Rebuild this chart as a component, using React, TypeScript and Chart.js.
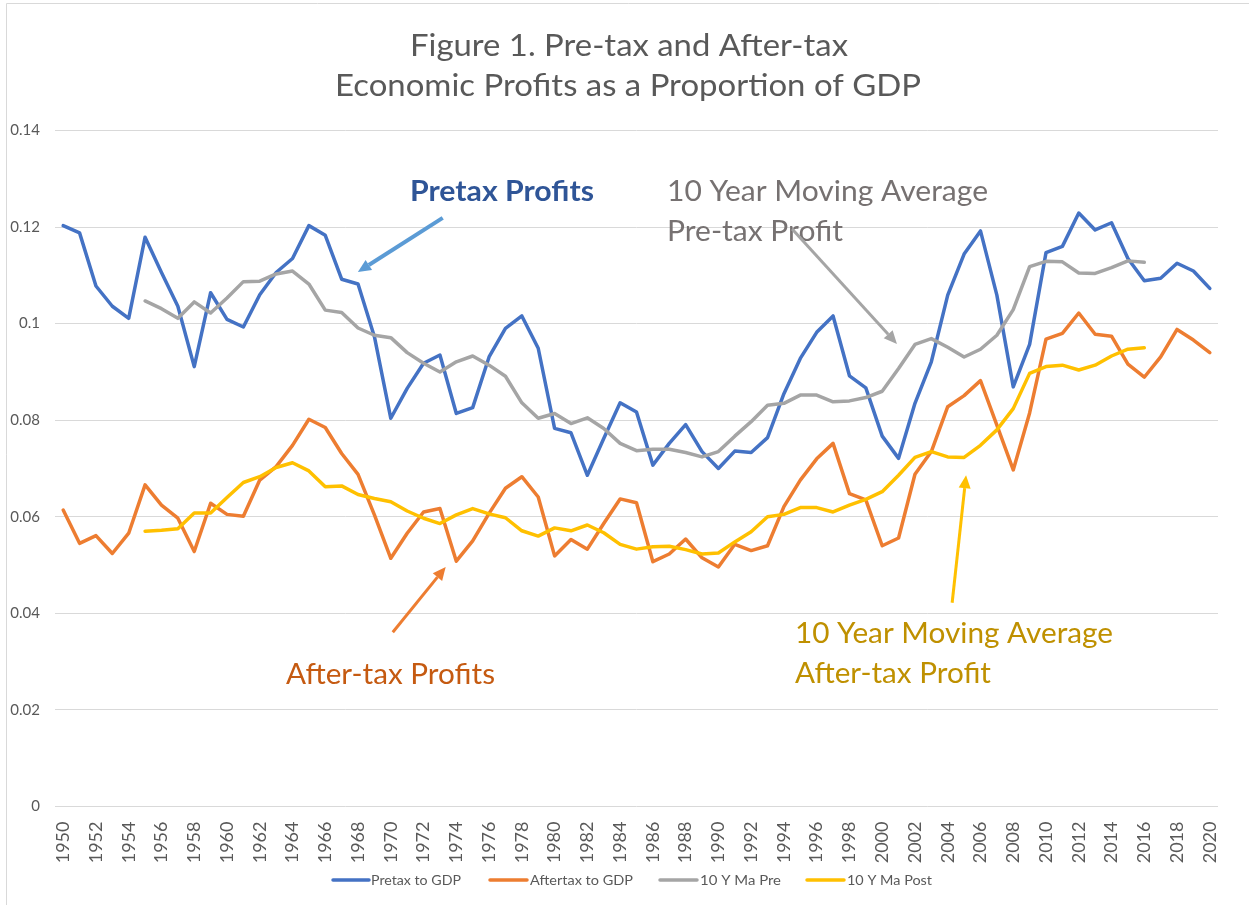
import React, { useEffect, useRef } from "react";
import { Chart, registerables } from "chart.js";
Chart.register(...registerables);

const years: string[] = Array.from({ length: 71 }, (_, i) => String(1950 + i));

const pretaxToGDP = [
  0.1203, 0.1188, 0.1078, 0.1036, 0.1011, 0.1179, 0.1106, 0.1036, 0.0911, 0.1064,
  0.1009, 0.0993, 0.1060, 0.1106, 0.1135, 0.1203, 0.1183, 0.1092, 0.1082, 0.0973,
  0.0804, 0.0866, 0.0918, 0.0935, 0.0814, 0.0826, 0.0931, 0.0990, 0.1016, 0.0949,
  0.0783, 0.0774, 0.0686, 0.0762, 0.0836, 0.0817, 0.0707, 0.0752, 0.0791, 0.0735,
  0.0700, 0.0736, 0.0733, 0.0764, 0.0855, 0.0928, 0.0982, 0.1016, 0.0892, 0.0867,
  0.0767, 0.0721, 0.0835, 0.0921, 0.1059, 0.1144, 0.1192, 0.1059, 0.0869, 0.0957,
  0.1147, 0.1160, 0.1229, 0.1194, 0.1209, 0.1135, 0.1089, 0.1094, 0.1125, 0.1109,
  0.1073,
];

const aftertaxToGDP = [
  0.0614, 0.0545, 0.0561, 0.0524, 0.0566, 0.0666, 0.0624, 0.0597, 0.0528, 0.0628,
  0.0605, 0.0601, 0.0676, 0.0704, 0.0748, 0.0802, 0.0785, 0.0731, 0.0688, 0.0604,
  0.0514, 0.0566, 0.0610, 0.0617, 0.0508, 0.0550, 0.0607, 0.0659, 0.0683, 0.0641,
  0.0519, 0.0553, 0.0533, 0.0586, 0.0637, 0.0629, 0.0507, 0.0523, 0.0554, 0.0515,
  0.0496, 0.0543, 0.0530, 0.0540, 0.0621, 0.0676, 0.0720, 0.0752, 0.0648, 0.0635,
  0.0540, 0.0556, 0.0688, 0.0735, 0.0828, 0.0851, 0.0882, 0.0790, 0.0697, 0.0815,
  0.0968, 0.0980, 0.1022, 0.0978, 0.0974, 0.0916, 0.0889, 0.0931, 0.0988, 0.0966,
  0.0940,
];

const maPre = [
  null, null, null, null, null, 0.1047, 0.1031, 0.1011, 0.1045, 0.1022,
  0.1053, 0.1087, 0.1088, 0.1103, 0.1109, 0.1082, 0.1028, 0.1023, 0.0991, 0.0976,
  0.0971, 0.0940, 0.0918, 0.0900, 0.0921, 0.0933, 0.0914, 0.0891, 0.0836, 0.0804,
  0.0814, 0.0793, 0.0805, 0.0783, 0.0752, 0.0737, 0.0740, 0.0740, 0.0733, 0.0724,
  0.0735, 0.0767, 0.0797, 0.0831, 0.0835, 0.0852, 0.0852, 0.0838, 0.0840, 0.0847,
  0.0860, 0.0907, 0.0957, 0.0969, 0.0951, 0.0931, 0.0947, 0.0976, 0.1029, 0.1118,
  0.1129, 0.1128, 0.1105, 0.1104, 0.1116, 0.1130, 0.1127, null, null, null,
  null,
];

const maPost = [
  null, null, null, null, null, 0.0570, 0.0572, 0.0575, 0.0608, 0.0608,
  0.0640, 0.0671, 0.0683, 0.0702, 0.0712, 0.0695, 0.0662, 0.0664, 0.0646, 0.0638,
  0.0631, 0.0612, 0.0597, 0.0586, 0.0604, 0.0617, 0.0606, 0.0598, 0.0571, 0.0560,
  0.0577, 0.0571, 0.0583, 0.0567, 0.0543, 0.0533, 0.0538, 0.0539, 0.0532, 0.0523,
  0.0525, 0.0548, 0.0569, 0.0600, 0.0605, 0.0619, 0.0619, 0.0610, 0.0624, 0.0636,
  0.0652, 0.0686, 0.0723, 0.0735, 0.0724, 0.0723, 0.0748, 0.0780, 0.0824, 0.0897,
  0.0911, 0.0914, 0.0904, 0.0914, 0.0933, 0.0947, 0.0950, null, null, null,
  null,
];

const seriesNames = ["Pretax to GDP", "Aftertax to GDP", "10 Y Ma Pre", "10 Y Ma Post"];
const seriesColors = ["#4472C4", "#ED7D31", "#A5A5A5", "#FFC000"];

const titleLines = ["Figure 1. Pre-tax and After-tax", "Economic Profits as a Proportion of GDP"];

const FONT = "Lato, 'Open Sans', sans-serif";
const TEXT_GRAY = "#595959";

// annotation texts: [text, left x, baseline y, size, weight, color, width]
const annotationTexts: [string, number, number, number, string, string, number][] = [
  ["Pretax Profits", 410, 201, 28, "700", "#2F5597", 184],
  ["10 Year Moving Average", 667, 201, 28, "400", "#767171", 321],
  ["Pre-tax Profit", 667, 241, 28, "400", "#767171", 176],
  ["After-tax Profits", 286, 684, 28, "400", "#C55A11", 209],
  ["10 Year Moving Average", 795, 643, 28, "400", "#BF9000", 318],
  ["After-tax Profit", 795, 683, 28, "400", "#BF9000", 196],
];

// arrows in data coordinates: [fromIndex, fromValue, toIndex, toValue, color, width]
const arrows: [number, number, number, number, string, number][] = [
  [23.17, 0.1219, 17.99, 0.1107, "#5B9BD5", 4],
  [44.5, 0.1196, 50.9, 0.0958, "#A5A5A5", 3],
  [20.12, 0.0361, 23.35, 0.0496, "#ED7D31", 3],
  [54.27, 0.0422, 55.12, 0.0686, "#FFC000", 3],
];

// legend: [sampleStart, sampleEnd, textX, textWidth]
const legendLayout: [number, number, number, number][] = [
  [333, 369, 371, 90],
  [490, 527, 530, 103],
  [660, 697, 700, 81],
  [807, 844, 847, 85],
];

function drawFitted(
  ctx: CanvasRenderingContext2D,
  text: string,
  x: number,
  y: number,
  size: number,
  weight: string,
  color: string,
  width: number,
  center = false
) {
  ctx.save();
  ctx.font = `${weight} ${size}px ${FONT}`;
  const w = ctx.measureText(text).width;
  const sx = width / w;
  ctx.fillStyle = color;
  ctx.textBaseline = "alphabetic";
  ctx.textAlign = "left";
  const left = center ? x - width / 2 : x;
  ctx.translate(left, y);
  ctx.scale(sx, 1);
  ctx.fillText(text, 0, 0);
  ctx.restore();
}

const overlayPlugin = {
  id: "overlay",
  afterDraw(chart: any) {
    const ctx: CanvasRenderingContext2D = chart.ctx;
    const xs = chart.scales.x;
    const ys = chart.scales.y;

    // chart border (left and top)
    ctx.save();
    ctx.strokeStyle = "#D9D9D9";
    ctx.lineWidth = 1;
    ctx.beginPath();
    ctx.moveTo(6.5, 910);
    ctx.lineTo(6.5, 3.5);
    ctx.lineTo(1260, 3.5);
    ctx.stroke();
    ctx.restore();

    // title
    drawFitted(ctx, titleLines[0], 629, 56, 31, "400", TEXT_GRAY, 438, true);
    drawFitted(ctx, titleLines[1], 628, 96, 31, "400", TEXT_GRAY, 586, true);

    // annotation texts
    annotationTexts.forEach(([t, x, y, s, w, c, wd]) => drawFitted(ctx, t, x, y, s, w, c, wd));

    // arrows
    arrows.forEach(([fi, fv, ti, tv, color, lw]) => {
      const x1 = xs.getPixelForValue(fi);
      const y1 = ys.getPixelForValue(fv);
      const x2 = xs.getPixelForValue(ti);
      const y2 = ys.getPixelForValue(tv);
      const ang = Math.atan2(y2 - y1, x2 - x1);
      const headLen = 13;
      const headW = 6;
      const bx = x2 - headLen * Math.cos(ang);
      const by = y2 - headLen * Math.sin(ang);
      ctx.save();
      ctx.strokeStyle = color;
      ctx.fillStyle = color;
      ctx.lineWidth = lw;
      ctx.lineCap = "butt";
      ctx.beginPath();
      ctx.moveTo(x1, y1);
      ctx.lineTo(bx, by);
      ctx.stroke();
      ctx.beginPath();
      ctx.moveTo(x2, y2);
      ctx.lineTo(bx + headW * Math.sin(ang), by - headW * Math.cos(ang));
      ctx.lineTo(bx - headW * Math.sin(ang), by + headW * Math.cos(ang));
      ctx.closePath();
      ctx.fill();
      ctx.restore();
    });

    // legend
    legendLayout.forEach(([s0, s1, tx, tw], i) => {
      ctx.save();
      ctx.strokeStyle = seriesColors[i];
      ctx.lineWidth = 3.5;
      ctx.lineCap = "round";
      ctx.beginPath();
      ctx.moveTo(s0, 880);
      ctx.lineTo(s1, 880);
      ctx.stroke();
      ctx.restore();
      drawFitted(ctx, seriesNames[i], tx, 885, 13.5, "400", TEXT_GRAY, tw);
    });
  },
};

export default function App() {
  const ref = useRef<HTMLCanvasElement | null>(null);

  useEffect(() => {
    if (!ref.current) return;
    const data = [pretaxToGDP, aftertaxToGDP, maPre, maPost];
    const chart = new Chart(ref.current, {
      type: "line",
      data: {
        labels: years,
        datasets: data.map((d, i) => ({
          label: seriesNames[i],
          data: d as any,
          borderColor: seriesColors[i],
          backgroundColor: seriesColors[i],
          borderWidth: 3.5,
          pointRadius: 0,
          pointHoverRadius: 0,
          tension: 0,
          fill: false,
          spanGaps: false,
          borderJoinStyle: "round" as const,
          borderCapStyle: "round" as const,
          order: 3 - i,
        })),
      },
      options: {
        animation: false,
        responsive: true,
        maintainAspectRatio: false,
        events: [],
        layout: { padding: { top: 130.5, right: 31, left: 0, bottom: 0 } },
        plugins: {
          legend: { display: false },
          title: { display: false },
          tooltip: { enabled: false },
        },
        scales: {
          x: {
            type: "category",
            offset: true,
            grid: { display: false, drawTicks: false },
            border: { display: false },
            ticks: {
              autoSkip: false,
              minRotation: 90,
              maxRotation: 90,
              padding: 15,
              color: TEXT_GRAY,
              font: { family: FONT, size: 18 },
              callback: (_v: any, idx: number) => (idx % 2 === 0 ? years[idx] : ""),
            },
            afterFit: (scale: any) => {
              scale.height = 98.5;
            },
          },
          y: {
            min: 0,
            max: 0.14,
            grid: { color: "#D9D9D9", lineWidth: 1, drawTicks: false },
            border: { display: false },
            ticks: {
              stepSize: 0.02,
              padding: 15,
              color: TEXT_GRAY,
              font: { family: FONT, size: 15 },
              callback: (v: any) => String(Number(Number(v).toFixed(2))),
            },
            afterFit: (scale: any) => {
              scale.width = 55;
            },
          },
        },
      },
      plugins: [overlayPlugin],
    });
    return () => chart.destroy();
  }, []);

  return (
    <div style={{ position: "fixed", left: 0, top: 0, width: 1249, height: 905, background: "#fff" }}>
      <canvas ref={ref} />
    </div>
  );
}
